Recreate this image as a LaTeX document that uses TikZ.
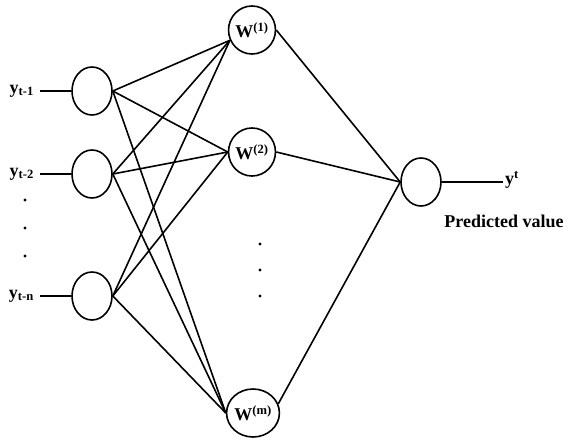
\documentclass[tikz,border=0pt]{standalone}
\usepackage{fontspec}
\setmainfont{Liberation Serif}
\usetikzlibrary{shapes.geometric}
\begin{document}
\begin{tikzpicture}[x=1pt,y=-1pt,
  neuron/.style={draw,line width=1.6pt,ellipse,minimum width=40pt,minimum height=48pt,inner sep=0pt},
  wire/.style={line width=1.6pt},
  lab/.style={font=\fontsize{18}{20}\selectfont\bfseries,inner sep=0pt},
  dotn/.style={circle,fill=black,inner sep=0pt,minimum size=3.2pt}]
\useasboundingbox (0,0) rectangle (569,439);
\node[neuron] (i1) at (92,91) {};
\node[neuron] (i2) at (92,174) {};
\node[neuron] (i3) at (92,296) {};
\node[neuron,lab] (h1) at (252,30) {W\textsuperscript{(1)}};
\node[neuron,lab] (h2) at (252,152) {W\textsuperscript{(2)}};
\node[neuron,lab] (h3) at (253,413) {W\textsuperscript{(m)}};
\node[neuron] (o) at (421,182) {};
\node[lab,anchor=east] (l1) at (34,91) {y\textsubscript{t-1}};
\node[lab,anchor=east] (l2) at (34,174) {y\textsubscript{t-2}};
\node[lab,anchor=east] (l3) at (34,296) {y\textsubscript{t-n}};
\coordinate (s1) at (40,91);
\coordinate (s2) at (40,174);
\coordinate (s3) at (40,296);
\coordinate (e) at (503,182);
\node[lab,anchor=west] (yo) at (505,180) {y\textsuperscript{t}};
\node[lab] (pv) at (504,221) {Predicted value};
\node[dotn] (d1) at (25,200) {};
\node[dotn] (d2) at (25,228) {};
\node[dotn] (d3) at (25,256) {};
\node[dotn] (m1) at (260,244) {};
\node[dotn] (m2) at (260,270) {};
\node[dotn] (m3) at (260,296) {};
\draw[wire] (s1) -- (i1.west);
\draw[wire] (s2) -- (i2.west);
\draw[wire] (s3) -- (i3.west);
\foreach \i in {i1,i2,i3}{
  \draw[wire] (\i.east) -- (h1.205);
  \draw[wire] (\i.east) -- (h2.west);
  \draw[wire] (\i.east) -- (h3.west);
}
\draw[wire] (h1.east) -- (o.west);
\draw[wire] (h2.east) -- (o.west);
\draw[wire] (h3.20) -- (o.west);
\draw[wire] (o.east) -- (e);
\end{tikzpicture}
\end{document}
